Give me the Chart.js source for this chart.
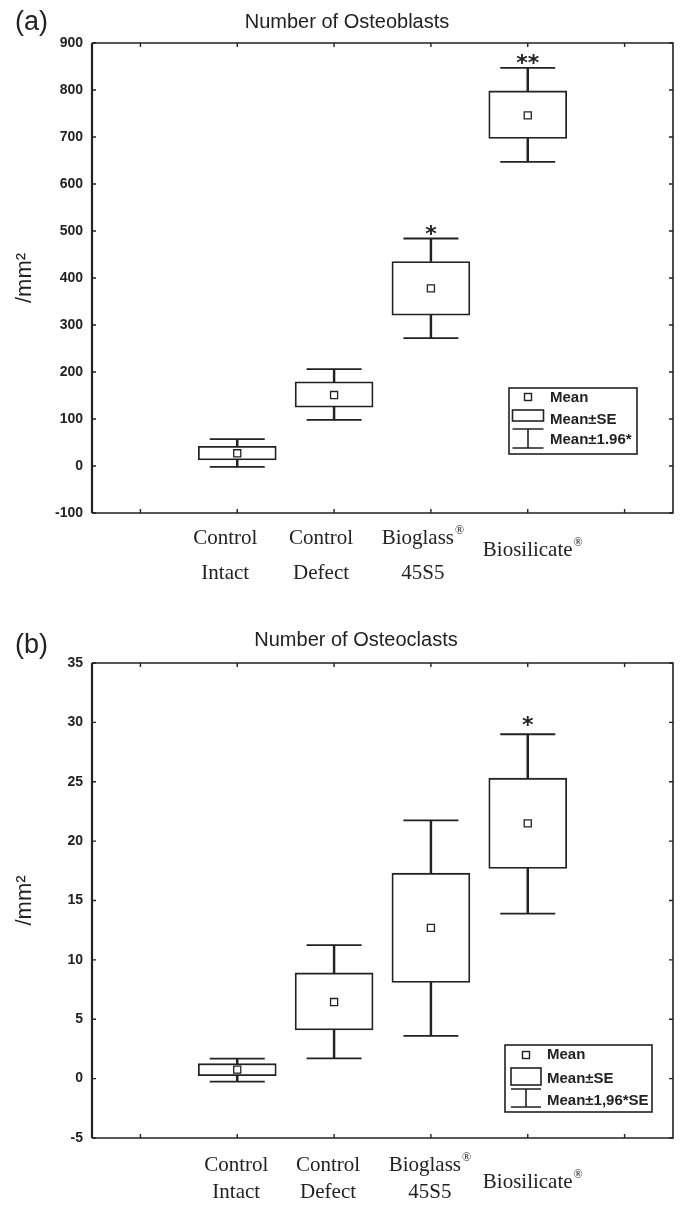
<!DOCTYPE html>
<html>
<head>
<meta charset="utf-8">
<script src="https://cdn.jsdelivr.net/npm/chart.js@4.4.0/dist/chart.umd.min.js"></script>
<style>
  body { margin: 0; background: #fff; }
  canvas { display: block; }
</style>
</head>
<body>
<canvas id="chartA" width="680" height="605"></canvas>
<canvas id="chartB" width="680" height="605"></canvas>
<script>
// x slots: one empty slot at each end, like the original plot
var slots = ['', 'Control Intact', 'Control Defect', 'Bioglass 45S5', 'Biosilicate', ''];
var labelTop = ['Control', 'Control', 'Bioglass®', 'Biosilicate®'];
var labelBottom = ['Intact', 'Defect', '45S5', ''];

// (a) osteoblasts per mm2
var blastMean = [27, 151, 378, 746];
var blastSeLow = [13, 125, 321, 697];
var blastSeHigh = [42, 179, 435, 798];
var blastCiLow = [-2, 98, 272, 647];
var blastCiHigh = [57, 206, 484, 847];
var blastStars = ['', '', '*', '**'];
var blastAxis = [-100, 900, 100]; // min, max, step

// (b) osteoclasts per mm2
var clastMean = [0.76, 6.45, 12.7, 21.5];
var clastSeLow = [0.25, 4.1, 8.1, 17.7];
var clastSeHigh = [1.26, 8.9, 17.3, 25.3];
var clastCiLow = [-0.25, 1.7, 3.6, 13.9];
var clastCiHigh = [1.68, 11.25, 21.75, 29.0];
var clastStars = ['', '', '', '*'];
var clastAxis = [-5, 35, 5];

var ink = '#222';

function pad(arr) {
    return [null].concat(arr, [null]);
}
function pairs(lo, hi) {
    return lo.map(function(v, i) { return [v, hi[i]]; });
}

function boxDatasets(mean, seLo, seHi, ciLo, ciHi) {
    return [
        { type: 'line', data: pad(mean), showLine: false, pointStyle: 'rect', pointRadius: 5,
          pointBackgroundColor: '#fff', pointBorderColor: ink, pointBorderWidth: 1.3, order: 0 },
        { type: 'line', data: pad(ciHi), showLine: false, pointStyle: 'line', pointRadius: 27.5,
          pointBorderColor: ink, pointBorderWidth: 1.8, order: 1 },
        { type: 'line', data: pad(ciLo), showLine: false, pointStyle: 'line', pointRadius: 27.5,
          pointBorderColor: ink, pointBorderWidth: 1.8, order: 1 },
        { type: 'bar', data: pad(pairs(seLo, seHi)), backgroundColor: '#fff', borderColor: ink,
          borderWidth: 1.8, borderSkipped: false, barThickness: 78, grouped: false, order: 2 },
        { type: 'bar', data: pad(pairs(seHi, ciHi)), backgroundColor: ink, borderWidth: 0,
          barThickness: 1.8, grouped: false, order: 3 },
        { type: 'bar', data: pad(pairs(ciLo, seLo)), backgroundColor: ink, borderWidth: 0,
          barThickness: 1.8, grouped: false, order: 3 }
    ];
}

// frame, inward ticks, titles, category labels, stars and legend
var decor = {
    id: 'decor',
    afterDraw: function(chart, args, o) {
        var ctx = chart.ctx, a = chart.chartArea;
        var xs = chart.scales.x, ys = chart.scales.y;
        ctx.save();
        ctx.strokeStyle = ink;
        ctx.fillStyle = ink;

        // frame
        ctx.lineWidth = 1.6;
        ctx.beginPath();
        ctx.moveTo(a.left, a.top); ctx.lineTo(a.right, a.top);
        ctx.lineTo(a.right, a.bottom); ctx.lineTo(a.left, a.bottom);
        ctx.stroke();
        ctx.lineWidth = 2.2;
        ctx.beginPath();
        ctx.moveTo(a.left, a.top); ctx.lineTo(a.left, a.bottom);
        ctx.stroke();

        // inward tick marks
        ctx.lineWidth = 1.4;
        ctx.beginPath();
        ys.ticks.forEach(function(t) {
            var y = ys.getPixelForValue(t.value);
            ctx.moveTo(a.left, y); ctx.lineTo(a.left + 4, y);
            ctx.moveTo(a.right, y); ctx.lineTo(a.right - 4, y);
        });
        for (var i = 0; i < slots.length; i++) {
            var x = xs.getPixelForValue(i);
            ctx.moveTo(x, a.top); ctx.lineTo(x, a.top + 4);
            ctx.moveTo(x, a.bottom); ctx.lineTo(x, a.bottom - 4);
        }
        ctx.stroke();

        // panel letter and title
        ctx.textBaseline = 'middle';
        ctx.textAlign = 'left';
        ctx.font = '27px "Liberation Sans", Arial, sans-serif';
        ctx.fillText(o.letter, 15, o.letterY);
        ctx.textAlign = 'center';
        ctx.font = '20px "Liberation Sans", Arial, sans-serif';
        ctx.fillText(o.title, o.titleX, o.titleY);

        // category labels (two lines, serif)
        labelTop.forEach(function(txt, k) {
            var cx = xs.getPixelForValue(k + 1) + o.labelShift[k];
            var single = !labelBottom[k];
            var y1 = a.bottom + (single ? o.singleY : o.line1Y);
            drawReg(ctx, txt, cx, y1);
            if (!single) {
                ctx.font = '21px "Liberation Serif", "Times New Roman", serif';
                ctx.textAlign = 'center';
                ctx.fillText(labelBottom[k], cx, a.bottom + o.line2Y);
            }
        });

        // significance stars above the upper whisker
        ctx.font = 'bold 22px "DejaVu Sans", sans-serif';
        ctx.textAlign = 'center';
        ctx.textBaseline = 'alphabetic';
        o.stars.forEach(function(s, k) {
            if (!s) return;
            var x = xs.getPixelForValue(k + 1);
            var y = ys.getPixelForValue(o.starAt[k]);
            ctx.fillText(s, x, y + o.starLift);
        });

        // legend
        var L = o.legend;
        ctx.fillStyle = '#fff';
        ctx.fillRect(L.x, L.y, L.w, L.h);
        ctx.lineWidth = 1.6;
        ctx.strokeRect(L.x, L.y, L.w, L.h);
        ctx.fillStyle = ink;
        ctx.lineWidth = 1.4;
        ctx.strokeRect(L.sx - 3.5, L.r1 - 3.5, 7, 7);
        ctx.lineWidth = 1.6;
        ctx.strokeRect(L.sx - L.sw, L.boxTop, 2 * L.sw, L.boxBot - L.boxTop);
        ctx.beginPath();
        ctx.moveTo(L.sx - L.sw, L.capTop); ctx.lineTo(L.sx + L.sw, L.capTop);
        ctx.moveTo(L.sx, L.capTop); ctx.lineTo(L.sx, L.capBot);
        ctx.moveTo(L.sx - L.sw, L.capBot); ctx.lineTo(L.sx + L.sw, L.capBot);
        ctx.stroke();
        ctx.save();
        ctx.beginPath();
        ctx.rect(L.x, L.y, L.w - 2, L.h);
        ctx.clip();
        ctx.font = 'bold 15px "Liberation Sans", Arial, sans-serif';
        ctx.textAlign = 'left';
        ctx.textBaseline = 'middle';
        ctx.fillText('Mean', L.tx, L.t1);
        ctx.fillText('Mean±SE', L.tx, L.t2);
        ctx.fillText(L.last, L.tx, L.t3);
        ctx.restore();

        ctx.restore();
    }
};

// text with a raised small ® at the end
function drawReg(ctx, txt, cx, y) {
    var main = txt.replace('®', '');
    var hasReg = main.length !== txt.length;
    ctx.font = '21px "Liberation Serif", "Times New Roman", serif';
    var w = ctx.measureText(main).width;
    ctx.font = '12px "Liberation Serif", "Times New Roman", serif';
    var rw = hasReg ? ctx.measureText('®').width + 1 : 0;
    var left = cx - (w + rw) / 2;
    ctx.textAlign = 'left';
    ctx.textBaseline = 'middle';
    ctx.font = '21px "Liberation Serif", "Times New Roman", serif';
    ctx.fillText(main, left, y);
    if (hasReg) {
        ctx.font = '12px "Liberation Serif", "Times New Roman", serif';
        ctx.fillText('®', left + w + 1, y - 7);
    }
}

function makeChart(id, sets, axis, topPad, xHeight, decorOpts) {
    return new Chart(document.getElementById(id), {
        type: 'bar',
        data: { labels: slots, datasets: sets },
        options: {
            responsive: false,
            animation: false,
            devicePixelRatio: 1,
            layout: { autoPadding: false, padding: { left: 0, top: topPad, right: 7, bottom: 0 } },
            plugins: {
                legend: { display: false },
                tooltip: { enabled: false },
                decor: decorOpts
            },
            scales: {
                x: {
                    type: 'category',
                    offset: true,
                    grid: { display: false, drawTicks: false },
                    border: { display: false },
                    ticks: { display: false },
                    afterFit: function(s) { s.height = xHeight; }
                },
                y: {
                    min: axis[0],
                    max: axis[1],
                    grid: { display: false, drawTicks: false },
                    border: { display: false },
                    ticks: {
                        stepSize: axis[2],
                        padding: 9,
                        color: ink,
                        font: { family: '"Liberation Sans", Arial, sans-serif', size: 14, weight: 'bold' }
                    },
                    title: {
                        display: true,
                        text: '/mm²',
                        color: ink,
                        padding: { top: 12, bottom: 0 },
                        font: { family: '"Liberation Sans", Arial, sans-serif', size: 22 }
                    },
                    afterFit: function(s) { s.width = 92; }
                }
            }
        },
        plugins: [decor]
    });
}

makeChart('chartA',
    boxDatasets(blastMean, blastSeLow, blastSeHigh, blastCiLow, blastCiHigh),
    blastAxis, 43, 92, {
        letter: '(a)', letterY: 23,
        title: 'Number of Osteoblasts', titleX: 347, titleY: 22,
        labelShift: [-12, -13, -8, 5],
        line1Y: 25, line2Y: 60, singleY: 37,
        stars: blastStars, starAt: blastCiHigh, starLift: 2,
        legend: { x: 509, y: 388, w: 128, h: 66, sx: 528, sw: 15.5, r1: 397,
                  boxTop: 410, boxBot: 421, capTop: 429, capBot: 448,
                  tx: 550, t1: 398, t2: 420, t3: 440, last: 'Mean±1.96*' }
    });

makeChart('chartB',
    boxDatasets(clastMean, clastSeLow, clastSeHigh, clastCiLow, clastCiHigh),
    clastAxis, 58, 72, {
        letter: '(b)', letterY: 41,
        title: 'Number of Osteoclasts', titleX: 356, titleY: 35,
        labelShift: [-1, -6, -1, 5],
        line1Y: 27, line2Y: 54, singleY: 44,
        stars: clastStars, starAt: clastCiHigh, starLift: -2,
        legend: { x: 505, y: 440, w: 147, h: 67, sx: 526, sw: 15, r1: 450,
                  boxTop: 463, boxBot: 480, capTop: 484, capBot: 502,
                  tx: 547, t1: 450, t2: 474, t3: 496, last: 'Mean±1,96*SE' }
    });
</script>
</body>
</html>
